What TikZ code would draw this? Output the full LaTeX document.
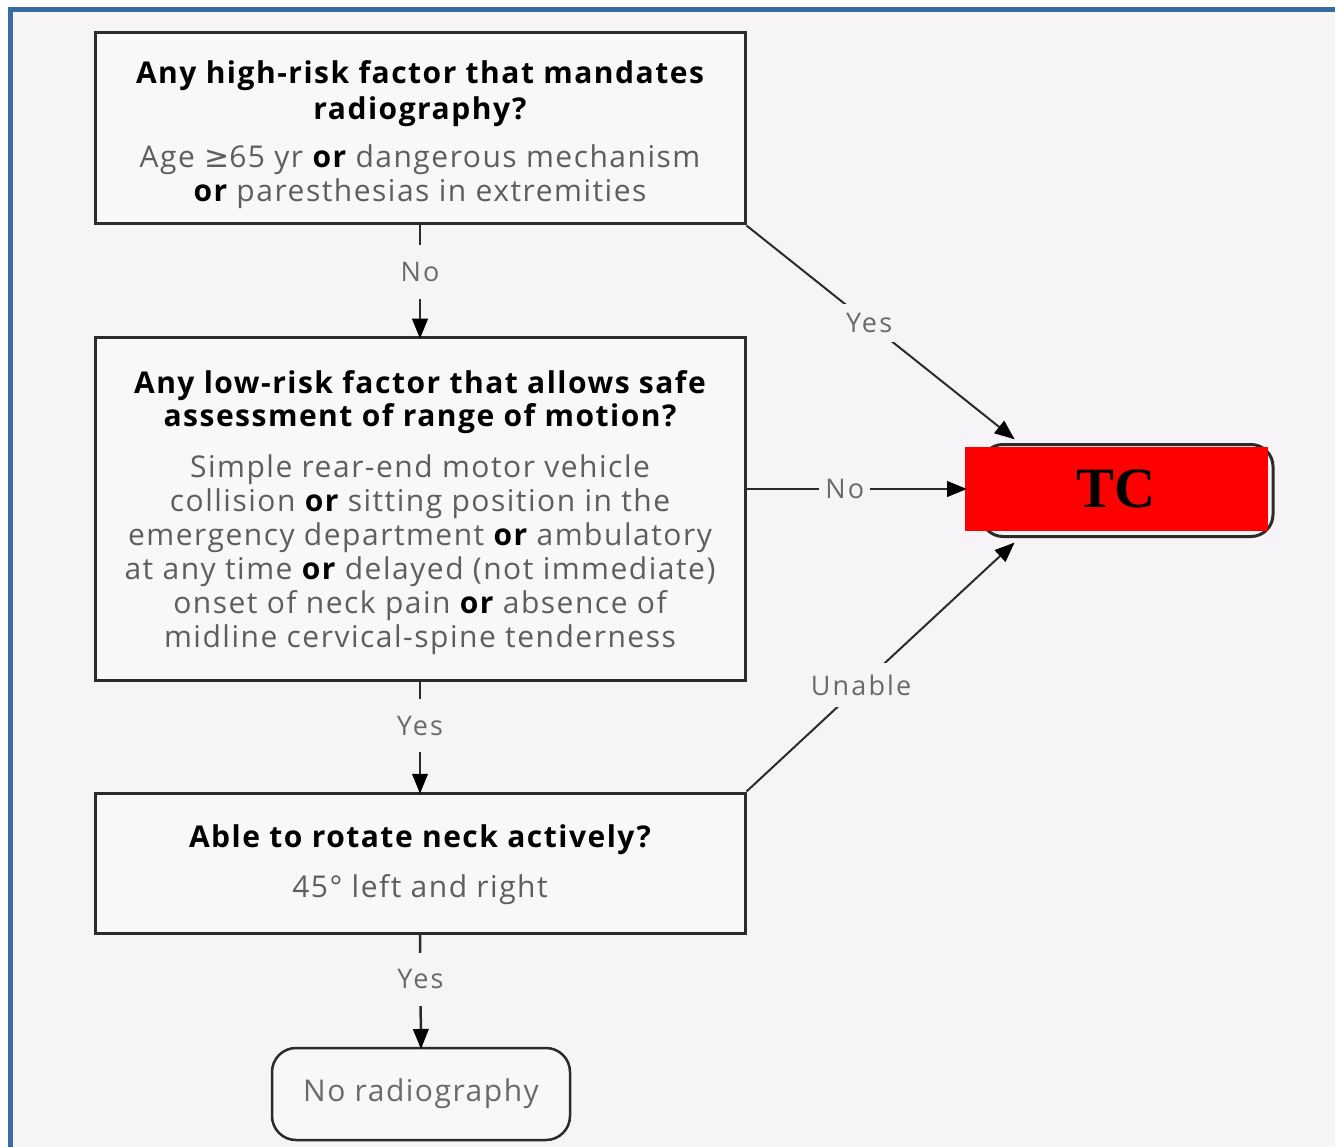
\documentclass[tikz,border=0pt]{standalone}
\usepackage{fontspec}
\setmainfont{Open Sans}[LetterSpace=5]
\newfontfamily\labf{Open Sans}[LetterSpace=8]
\newfontfamily\tcfont{Liberation Serif}
\newfontfamily\symf{DejaVu Sans}
\usetikzlibrary{decorations.markings}
\definecolor{bg}{HTML}{F7F4F8}
\definecolor{boxfill}{HTML}{F8F8F8}
\definecolor{frameblue}{HTML}{3A6B9E}
\definecolor{txtgrey}{HTML}{5E5E5E}
\definecolor{lblgrey}{HTML}{6A6A6A}
\definecolor{edge}{HTML}{2B2B2B}
\definecolor{tcred}{HTML}{FF0000}
\newcommand{\orw}{{\color{black}\bfseries or}}
\newcommand{\hd}[1]{{\bfseries #1}}
\newcommand{\dt}[1]{{\color{txtgrey}#1}}
\begin{document}
\begin{tikzpicture}[x=1pt,y=1pt,
  boxshape/.style={draw=edge, line width=3pt, fill=boxfill, minimum width=650pt,
    inner sep=0pt},
  boxtext/.style={align=center, inner sep=0pt, font=\fontsize{30}{34}\selectfont},
  conn/.style={draw=edge, line width=2.5pt, postaction={decorate},
    decoration={markings, mark=at position 1 with
      {\filldraw[black, line width=1.5pt, line join=miter] (0pt,0pt) -- (-17pt,7pt) -- (-17pt,-7pt) -- cycle;}}},
  lab/.style={fill=bg, text=lblgrey, inner sep=6pt, font=\labf\fontsize{27}{30}\selectfont},
  vlab/.style={lab, inner xsep=4pt, inner ysep=17pt}]
\useasboundingbox (0,0) rectangle (1335,-1147);
\clip (0,0) rectangle (1335,-1147);
\fill[white] (0,0) rectangle (1335,-1147);
\draw[frameblue, line width=5pt, fill=bg] (10.5,-9.5) rectangle (1380,-1190);

\node[boxshape, minimum height=191pt] (q1) at (420,-128.5) {};
\node[boxtext] (q1t) at (420,-135)
  {\hd{Any high-risk factor that mandates}\\[2pt]
   \hd{radiography?}\\[14pt]
   \dt{Age {\symf ≥}65 yr \orw{} dangerous mechanism}\\
   \dt{\orw{} paresthesias in extremities}};

\node[boxshape, minimum height=342pt] (q2) at (420,-509) {};
\node[boxtext] (q2t) at (420,-512.5)
  {\hd{Any low-risk factor that allows safe}\\[-1pt]
   \hd{assessment of range of motion?}\\[17pt]
   \dt{Simple rear-end motor vehicle}\\
   \dt{collision \orw{} sitting position in the}\\
   \dt{emergency department \orw{} ambulatory}\\
   \dt{at any time \orw{} delayed (not immediate)}\\
   \dt{onset of neck pain \orw{} absence of}\\
   \dt{midline cervical-spine tenderness}};

\node[boxshape, minimum height=140pt] (q3) at (420,-863) {};
\node[boxtext] (q3t) at (420,-865)
  {\hd{Able to rotate neck actively?}\\[16pt]
   \dt{45° left and right}};

\node[draw=edge, line width=2.5pt, fill=boxfill, rounded corners=24pt,
  minimum width=298pt, minimum height=92pt, inner sep=0pt, text=lblgrey,
  font=\fontsize{30}{32}\selectfont] (nr) at (421,-1094) {No radiography};

\node[draw=edge, line width=3pt, rounded corners=22pt, minimum width=292pt,
  minimum height=92pt] (tcback) at (1127,-490.5) {};
\node[fill=tcred, minimum width=303pt, minimum height=84pt, inner sep=0pt,
  font=\tcfont\bfseries\fontsize{57}{60}\selectfont] (tc) at (1116.5,-489) {TC};

\coordinate (tcin1) at (1013,-438);
\coordinate (tcin3) at (1013,-544);

\draw[conn] (q1.south) -- node[vlab, pos=0.42] {No} (q2.north);
\draw[conn] (q2.south) -- node[vlab, pos=0.40] {Yes} (q3.north);
\draw[conn] (q3.south) -- node[vlab, pos=0.40] {Yes} (nr.north);
\draw[conn, line width=2pt] (q1.south east) -- node[lab, pos=0.46, inner ysep=9pt] {Yes} (tcin1);
\draw[conn] (q2.east |- tc.west) -- node[lab, pos=0.45] {No} (tc.west);
\draw[conn, line width=2pt] (q3.north east) -- node[lab, pos=0.43, inner ysep=12pt] {Unable} (tcin3);
\end{tikzpicture}
\end{document}
